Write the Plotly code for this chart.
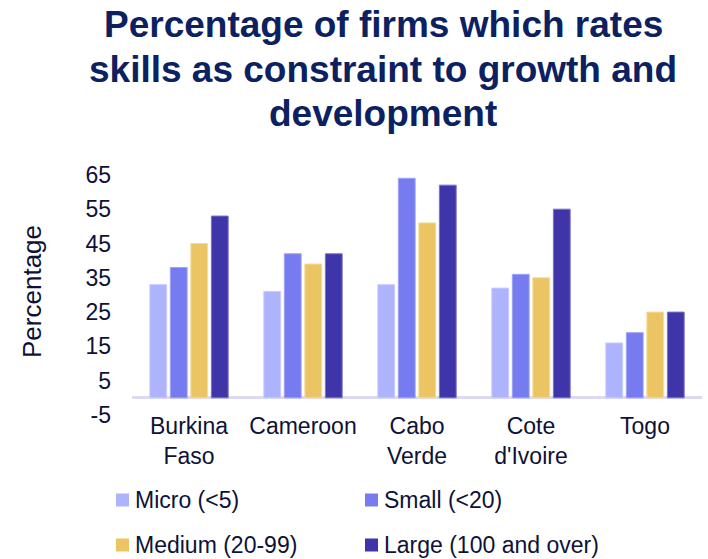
import plotly.graph_objects as go

# Countries on the category axis (line breaks as shown under the bars)
countries = ["Burkina<br>Faso", "Cameroon", "Cabo<br>Verde", "Cote<br>d'Ivoire", "Togo"]

# Share of firms (%) rating skills as a constraint, by firm size
micro = [33, 31, 33, 32, 16]
small = [38, 42, 64, 36, 19]
medium = [45, 39, 51, 35, 25]
large = [53, 42, 62, 55, 25]

series_names = ["Micro (<5)", "Small (<20)", "Medium (20-99)", "Large (100 and over)"]
series_values = [micro, small, medium, large]
series_colors = ["#AEB3FE", "#767CF0", "#EBC563", "#3F35A8"]
outline_colors = ["#C9CCFF", "#9EA2F5", "#F5DC9C", "#7C74C9"]

y_ticks = [-5, 5, 15, 25, 35, 45, 55, 65]
y_tick_text = [str(v) for v in y_ticks]

title_lines = [
    "Percentage of firms which rates",
    "skills as constraint to growth and",
    "development",
]

W, H = 708, 559
L, R, T, B = 132, 6, 168, 144
text_color = "#0E1236"
title_color = "#0B2161"
font_family = "Arial, Liberation Sans, sans-serif"

fig = go.Figure()
for name, vals, col, oc in zip(series_names, series_values, series_colors, outline_colors):
    fig.add_trace(go.Bar(
        x=countries, y=vals, name=name,
        marker=dict(color=col, line=dict(color=oc, width=1)),
        showlegend=False,
    ))

# Paper-coordinate helpers for hand-placed legend and title
pw, ph = W - L - R, H - T - B
def px_x(px):
    return (px - L) / pw
def px_y(py):
    return (H - B - py) / ph

# Title: three centred bold lines
for line, cy in zip(title_lines, [24, 69, 113]):
    fig.add_annotation(text="<b>%s</b>" % line, xref="paper", yref="paper",
                       x=px_x(383), y=px_y(cy), xanchor="center", yanchor="middle",
                       showarrow=False,
                       font=dict(size=37, color=title_color, family=font_family))

# Legend: two columns of colour squares with labels
legend_slots = [(116, 500), (365, 500), (116, 545), (365, 545)]
sq = 13
for (lx, ly), name, col in zip(legend_slots, series_names, series_colors):
    fig.add_shape(type="rect", xref="paper", yref="paper",
                  x0=px_x(lx), x1=px_x(lx + sq),
                  y0=px_y(ly + sq / 2), y1=px_y(ly - sq / 2),
                  fillcolor=col, line=dict(width=0))
    fig.add_annotation(text=name, xref="paper", yref="paper",
                       x=px_x(lx + sq + 4), y=px_y(ly), xanchor="left", yanchor="middle",
                       showarrow=False, font=dict(size=23, color=text_color, family=font_family))

fig.update_layout(
    width=W, height=H,
    margin=dict(l=L, r=R, t=T, b=B),
    paper_bgcolor="white", plot_bgcolor="white",
    barmode="group", bargap=0.28, bargroupgap=0.18,
    font=dict(family=font_family, color=text_color, size=22),
    xaxis=dict(showline=False, ticks="", ticklabelstandoff=-5,
               tickfont=dict(size=23, color=text_color)),
    yaxis=dict(
        range=[-5, 67], tickvals=y_ticks, ticktext=y_tick_text,
        showgrid=False, showline=False,
        zeroline=True, zerolinecolor="#DCDAF2", zerolinewidth=3,
        tickfont=dict(size=23, color=text_color), ticklabelstandoff=20,
        title=dict(text="Percentage", font=dict(size=26, color=text_color), standoff=36),
    ),
)

fig.write_html("out.html")
